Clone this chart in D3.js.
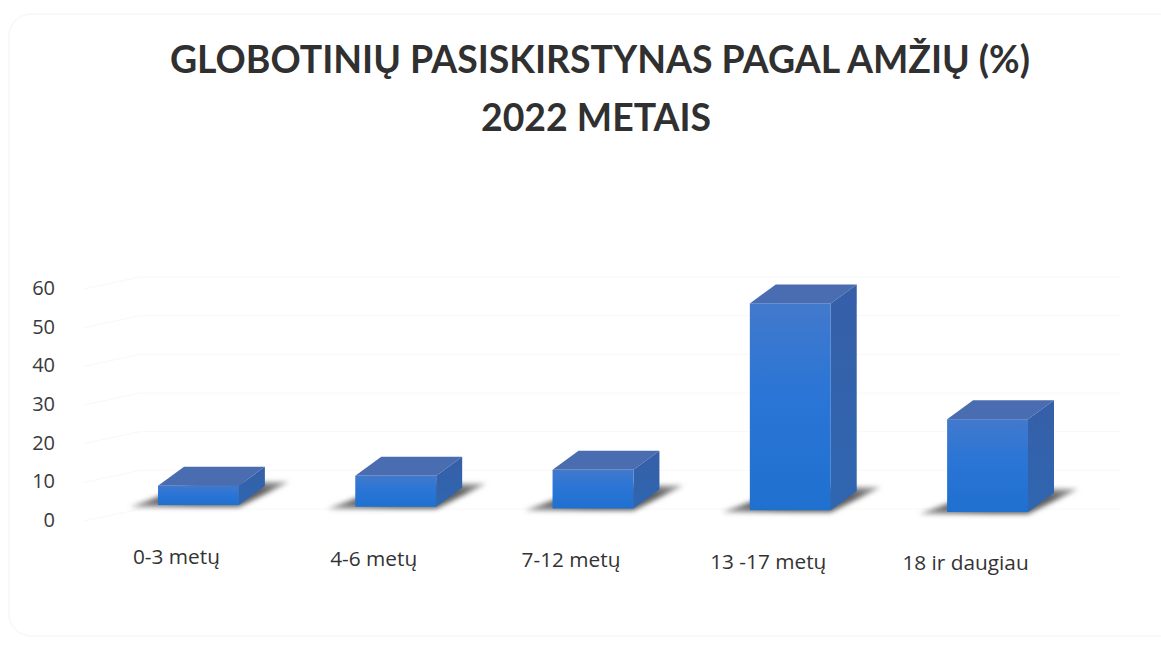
<!DOCTYPE html>
<html>
<head>
<meta charset="utf-8">
<script src="https://cdnjs.cloudflare.com/ajax/libs/d3/7.8.5/d3.min.js"></script>
<style>
  html, body { margin: 0; padding: 0; background: #fff; }
  svg { display: block; }
  text { font-family: Lato, "Open Sans", sans-serif; }
  .title { font-size: 37.4px; font-weight: 700; fill: #303030; text-anchor: middle; }
  .axis text { font-family: "Open Sans", sans-serif; font-size: 20px; fill: #3a3a3a; }
  .cat { font-family: "Open Sans", sans-serif; font-size: 20.8px; fill: #333; text-anchor: middle; }
</style>
</head>
<body>
<svg id="chart" width="1161" height="650"></svg>
<script>
const titleLines = ['GLOBOTINIŲ PASISKIRSTYNAS PAGAL AMŽIŲ (%)', '2022 METAIS']
const categories = ['0-3 metų', '4-6 metų', '7-12 metų', '13 -17 metų', '18 ir daugiau']
const values = [5, 8, 10, 53.5, 24]
const yTicks = [0, 10, 20, 30, 40, 50, 60]

const svg = d3.select('#chart')
const defs = svg.append('defs')

// paper edge of the scan
svg.append('rect')
  .attr('x', 9).attr('y', 14)
  .attr('width', 1170).attr('height', 622)
  .attr('rx', 22)
  .attr('fill', 'none')
  .attr('stroke', '#f9f9f9')
  .attr('stroke-width', 2)

defs.append('filter').attr('id', 'blur')
  .attr('x', '-20%').attr('y', '-40%').attr('width', '140%').attr('height', '180%')
  .append('feGaussianBlur').attr('stdDeviation', 2.5)

const frontGrad = defs.append('linearGradient').attr('id', 'front')
  .attr('x1', 0).attr('y1', 0).attr('x2', 0).attr('y2', 1)
frontGrad.append('stop').attr('offset', '0%').attr('stop-color', '#4279cc')
frontGrad.append('stop').attr('offset', '45%').attr('stop-color', '#2a75d6')
frontGrad.append('stop').attr('offset', '100%').attr('stop-color', '#1f70cf')

const sideGrad = defs.append('linearGradient').attr('id', 'side')
  .attr('x1', 0).attr('y1', 0).attr('x2', 0).attr('y2', 1)
sideGrad.append('stop').attr('offset', '0%').attr('stop-color', '#365fa8')
sideGrad.append('stop').attr('offset', '100%').attr('stop-color', '#2f66b0')

const shadowGrad = defs.append('linearGradient').attr('id', 'shadow')
  .attr('x1', 0).attr('y1', 1).attr('x2', 1).attr('y2', 0)
shadowGrad.append('stop').attr('offset', '0%').attr('stop-color', '#a5a5a5')
shadowGrad.append('stop').attr('offset', '25%').attr('stop-color', '#5f5f5f')
shadowGrad.append('stop').attr('offset', '75%').attr('stop-color', '#5f5f5f')
shadowGrad.append('stop').attr('offset', '100%').attr('stop-color', '#adadad')

const plot = { left: 158, right: 1028 }
const x = d3.scaleBand().domain(categories).range([plot.left, plot.right]).paddingInner(0.59)
const y = d3.scaleLinear().domain([0, 60]).range([519, 287])
const barH = (v) => y(0) - y(v)

// the floor runs slightly downhill in the photographed page
const floorY = d3.scaleLinear().domain([0, categories.length - 1]).range([505, 512])
const labelY = d3.scaleLinear().domain([0, categories.length - 1]).range([564, 570])
const depth = { dx: 26, dy: -19 }

svg.selectAll('.title')
  .data(titleLines)
  .enter()
  .append('text')
  .attr('class', 'title')
  .attr('x', (d, i) => (i === 0 ? 600 : 596))
  .attr('y', (d, i) => 73 + i * 58)
  .text((d) => d)

// faint walls and gridlines
const grid = svg.append('g').attr('stroke', '#f8f8f8').attr('fill', 'none')
grid.selectAll('.grid')
  .data(yTicks)
  .enter()
  .append('path')
  .attr('class', 'grid')
  .attr('d', (d) => d3.line()([[84, y(d) + 2], [140, y(d) - 10], [1120, y(d) - 10]]))

// y axis
const axis = svg.append('g')
  .attr('class', 'axis')
  .attr('transform', 'translate(55, 1)')
  .call(d3.axisLeft(y).tickValues(yTicks).tickSize(0).tickPadding(0))
axis.select('.domain').remove()

const bars = svg.selectAll('.bar')
  .data(categories.map((c, i) => ({ c, i, v: values[i] })))
  .enter()
  .append('g')
  .attr('class', 'bar')

const pts = (list) => list.map((p) => p.join(',')).join(' ')

bars.append('polygon')
  .attr('fill', 'url(#shadow)')
  .attr('filter', 'url(#blur)')
  .attr('points', (d) => {
    const l = x(d.c)
    const r = l + x.bandwidth()
    const b = floorY(d.i)
    return pts([[l - 28, b + 2], [r, b + 2], [r + 50, b - 23], [r - 40, b - 23]])
  })

bars.append('polygon')
  .attr('fill', '#4a6cb0')
  .attr('points', (d) => {
    const l = x(d.c)
    const r = l + x.bandwidth()
    const t = floorY(d.i) - barH(d.v)
    return pts([[l, t], [r, t], [r + depth.dx, t + depth.dy], [l + depth.dx, t + depth.dy]])
  })

bars.append('polygon')
  .attr('fill', 'url(#side)')
  .attr('points', (d) => {
    const r = x(d.c) + x.bandwidth()
    const b = floorY(d.i)
    const t = b - barH(d.v)
    return pts([[r, t], [r + depth.dx, t + depth.dy], [r + depth.dx, b + depth.dy], [r, b]])
  })

bars.append('rect')
  .attr('fill', 'url(#front)')
  .attr('x', (d) => x(d.c))
  .attr('y', (d) => floorY(d.i) - barH(d.v))
  .attr('width', x.bandwidth())
  .attr('height', (d) => barH(d.v))

svg.selectAll('.cat')
  .data(categories)
  .enter()
  .append('text')
  .attr('class', 'cat')
  .attr('x', (d) => x(d) + x.bandwidth() / 2 - 22)
  .attr('y', (d, i) => labelY(i))
  .text((d) => d)
</script>
</body>
</html>
